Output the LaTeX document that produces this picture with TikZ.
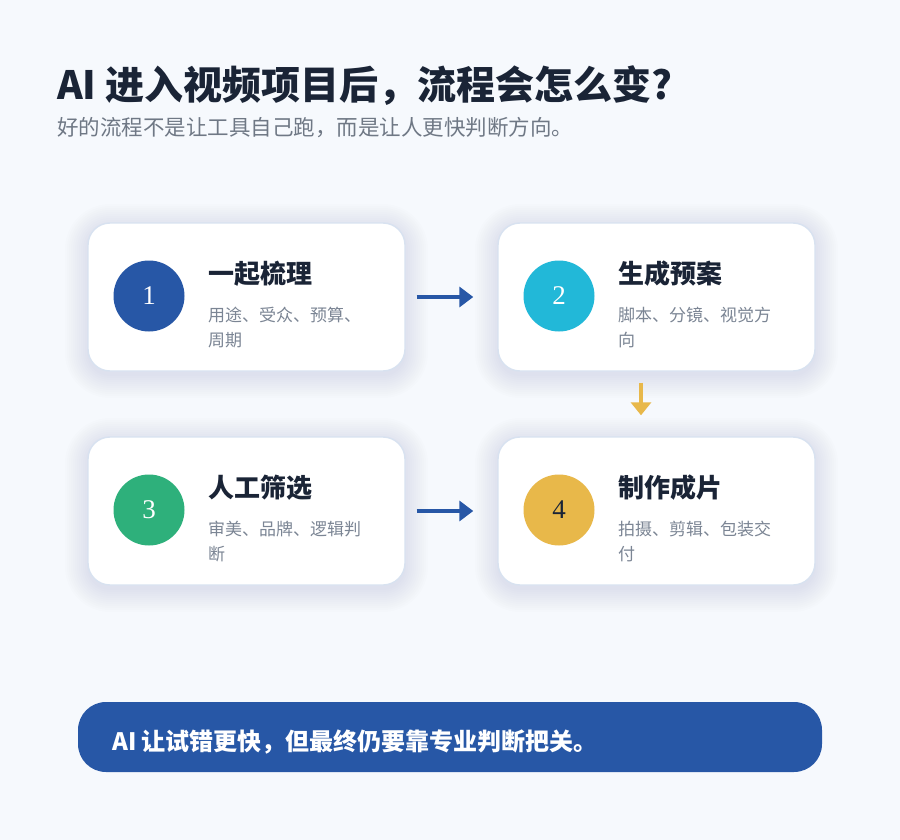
\documentclass[tikz,border=0pt]{standalone}
\usepackage{fontspec}
\setmainfont{Noto Sans CJK SC}
\newfontfamily\cjk{Noto Sans CJK SC}
\newfontfamily\numfont{Liberation Serif}
\usetikzlibrary{arrows.meta}

\definecolor{bgcol}{HTML}{F6F9FD}
\definecolor{inkcol}{HTML}{1A2436}
\definecolor{greycol}{HTML}{7B8594}
\definecolor{edgecol}{HTML}{D8E2F0}
\definecolor{bluecol}{HTML}{2757A6}
\definecolor{cyancol}{HTML}{22B8D8}
\definecolor{greencol}{HTML}{2EB07B}
\definecolor{yellowcol}{HTML}{E8B84A}
\definecolor{shadecol}{HTML}{3A4A78}

\tikzstyle{card}=[rectangle, draw=edgecol, line width=1.4pt, fill=white,
                  minimum width=317pt, minimum height=148pt, rounded corners=22pt]
\tikzstyle{cardshadow}=[rectangle, fill=shadecol, opacity=0.008]
\tikzstyle{badge}=[circle, minimum size=71pt, inner sep=0pt,
                   font=\numfont\fontsize{27}{27}\selectfont]
\tikzstyle{steptitle}=[anchor=west, inner sep=0pt, text=inkcol,
                       font=\cjk\bfseries\fontsize{26}{30}\selectfont]
\tikzstyle{stepnote}=[anchor=north west, inner sep=0pt, text=greycol, align=left,
                      font=\cjk\fontsize{17}{25}\selectfont]
\tikzstyle{flow}=[line width=3.5pt, -{Triangle[length=14pt,width=20pt]}]

\begin{document}
\begin{tikzpicture}[x=1pt, y=-1pt]

  %%%%%%%%%%%%%%%%%%%%%%%%%%%%%%
  % background
  \fill[bgcol] (0, 0) rectangle (900, 840);
  \useasboundingbox (0, 0) rectangle (900, 840);

  %%%%%%%%%%%%%%%%%%%%%%%%%%%%%%
  % heading
  \node (title) at (57, 86) [anchor=west, inner sep=0pt, text=inkcol]
    {\cjk\bfseries\fontsize{39}{44}\selectfont AI 进入视频项目后，流程会怎么变?};
  \node (subtitle) at (57, 128) [anchor=west, inner sep=0pt, text=greycol!90!black]
    {\cjk\fontsize{21.5}{24}\selectfont 好的流程不是让工具自己跑，而是让人更快判断方向。};

  %%%%%%%%%%%%%%%%%%%%%%%%%%%%%%
  % shadows
  \foreach \cx/\cy in {246.5/301, 656.5/301, 246.5/515, 656.5/515} {
    \foreach \grow in {2, 6, ..., 46} {
      \node at (\cx, \cy) [cardshadow, minimum width=317pt+\grow pt,
                           minimum height=148pt+\grow pt,
                           rounded corners=22pt+0.5*\grow pt] {};
    }
  }

  %%%%%%%%%%%%%%%%%%%%%%%%%%%%%%
  % cards
  \node (card1) at (246.5, 297) [card] {};
  \node (card2) at (656.5, 297) [card] {};
  \node (card3) at (246.5, 511) [card] {};
  \node (card4) at (656.5, 511) [card] {};

  %%%%%%%%%%%%%%%%%%%%%%%%%%%%%%
  % badges
  \node (num1) at (149, 296) [badge, fill=bluecol, text=white] {1};
  \node (num2) at (559, 296) [badge, fill=cyancol, text=white] {2};
  \node (num3) at (149, 510) [badge, fill=greencol, text=white] {3};
  \node (num4) at (559, 510) [badge, fill=yellowcol, text=inkcol] {4};

  %%%%%%%%%%%%%%%%%%%%%%%%%%%%%%
  % texts
  \node (head1) at (208, 274) [steptitle] {一起梳理};
  \node (note1) at (208, 307) [stepnote] {用途、受众、预算、\\周期};

  \node (head2) at (618, 274) [steptitle] {生成预案};
  \node (note2) at (618, 307) [stepnote] {脚本、分镜、视觉方\\向};

  \node (head3) at (208, 488) [steptitle] {人工筛选};
  \node (note3) at (208, 521) [stepnote] {审美、品牌、逻辑判\\断};

  \node (head4) at (618, 488) [steptitle] {制作成片};
  \node (note4) at (618, 521) [stepnote] {拍摄、剪辑、包装交\\付};

  %%%%%%%%%%%%%%%%%%%%%%%%%%%%%%
  % links
  \draw [flow, bluecol, shorten <=11pt, shorten >=24pt] (card1.east) to (card2.west);

  \draw [flow, yellowcol, -{Triangle[length=13pt,width=20pt]}, shorten <=11pt, shorten >=21pt]
    ([xshift=-15.5pt]card2.south) to ([xshift=-15.5pt]card4.north);

  \draw [flow, bluecol, shorten <=11pt, shorten >=24pt] (card3.east) to (card4.west);

  %%%%%%%%%%%%%%%%%%%%%%%%%%%%%%
  % banner
  \node (banner) at (450, 737) [rectangle, fill=bluecol, minimum width=744pt,
                                minimum height=70pt, rounded corners=28pt] {};
  \node (bannertext) at (112, 742) [anchor=west, inner sep=0pt, text=white]
    {\cjk\bfseries\fontsize{24}{28}\selectfont AI 让试错更快，但最终仍要靠专业判断把关。};

\end{tikzpicture}
\end{document}
